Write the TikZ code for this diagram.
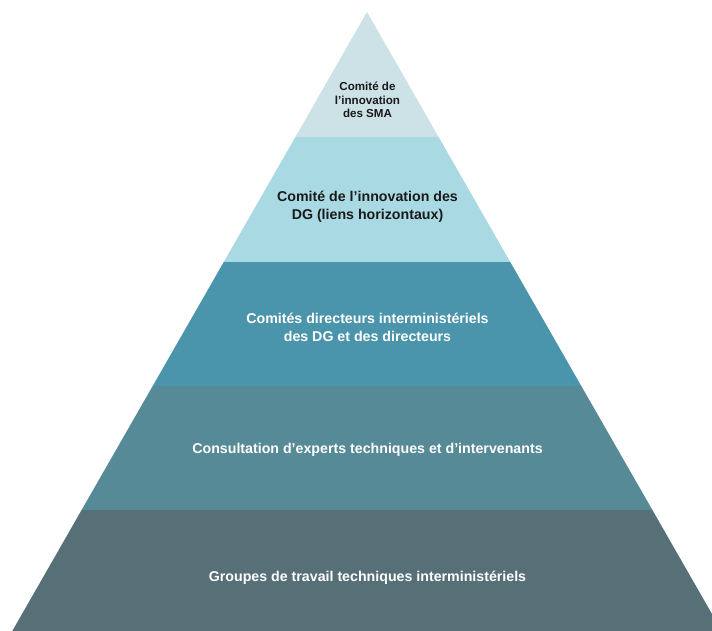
\documentclass[tikz,border=0pt]{standalone}
\usepackage{fontspec}
\setmainfont{Liberation Sans}
\definecolor{bandA}{HTML}{CCE2E6}
\definecolor{bandB}{HTML}{A9D9E3}
\definecolor{bandC}{HTML}{4B95AC}
\definecolor{bandD}{HTML}{568A97}
\definecolor{bandE}{HTML}{577078}
\definecolor{darktext}{HTML}{1A1A1A}
\tikzset{
  lbl/.style={align=center, font=\fontsize{14.2}{18}\selectfont\bfseries, inner sep=0pt},
  toplbl/.style={align=center, font=\fontsize{11.6}{13.2}\selectfont\bfseries, inner sep=0pt, text=darktext},
}
\begin{document}
\begin{tikzpicture}[x=1pt,y=-1pt]
\useasboundingbox (0,0) rectangle (712,631);
\begin{scope}
\clip (0,0) rectangle (712,631);
\fill[bandA] (367,12) -- (438.6,137) -- (295.4,137) -- cycle;
\fill[bandB] (295.4,137) -- (438.6,137) -- (510.25,262) -- (223.75,262) -- cycle;
\fill[bandC] (223.75,262) -- (510.25,262) -- (581.3,386) -- (152.7,386) -- cycle;
\fill[bandD] (152.7,386) -- (581.3,386) -- (652.4,510) -- (81.6,510) -- cycle;
\fill[bandE] (81.6,510) -- (652.4,510) -- (721.7,631) -- (12.3,631) -- cycle;
\end{scope}
\node[toplbl] (t1) at (367.5,100) {Comité de\\l’innovation\\des SMA};
\node[lbl, text=darktext] (t2) at (367.5,207) {Comité de l’innovation des\\DG (liens horizontaux)};
\node[lbl, text=white] (t3) at (367.5,327) {Comités directeurs interministériels\\des DG et des directeurs};
\node[lbl, text=white] (t4) at (367.5,450) {Consultation d’experts techniques et d’intervenants};
\node[lbl, text=white] (t5) at (367.5,578) {Groupes de travail techniques interministériels};
\end{tikzpicture}
\end{document}
